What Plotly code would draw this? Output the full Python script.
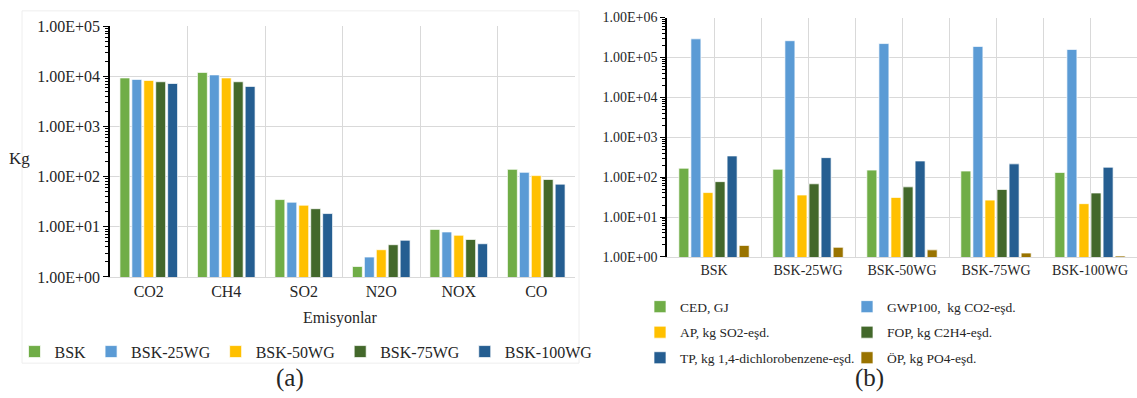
import plotly.graph_objects as go

# ---------------- data (a) ----------------
emissions = ["CO2", "CH4", "SO2", "N2O", "NOX", "CO"]
series_a = ["BSK", "BSK-25WG", "BSK-50WG", "BSK-75WG", "BSK-100WG"]
bsk      = [9300, 12000, 35, 1.62, 8.9, 140]
bsk25    = [8700, 10700, 31, 2.5, 7.9, 122]
bsk50    = [8300, 9300, 27, 3.5, 6.8, 105]
bsk75    = [7800, 7800, 23, 4.4, 5.6, 88]
bsk100   = [7200, 6300, 18.4, 5.4, 4.6, 71]
values_a = [bsk, bsk25, bsk50, bsk75, bsk100]

# ---------------- data (b) ----------------
mixes = ["BSK", "BSK-25WG", "BSK-50WG", "BSK-75WG", "BSK-100WG"]
series_b = ["CED, GJ", "GWP100,  kg CO2-eşd.", "AP, kg SO2-eşd.",
            "FOP, kg C2H4-eşd.", "TP, kg 1,4-dichlorobenzene-eşd.", "ÖP, kg PO4-eşd."]
ced   = [167, 158, 150, 142, 131]
gwp   = [293000, 263000, 223000, 189000, 159000]
ap    = [41, 35.6, 31, 26.5, 21.6]
fop   = [77, 68, 57, 49, 40]
tp    = [340, 308, 254, 215, 177]
op    = [1.94, 1.74, 1.5, 1.25, 1.05]
values_b = [ced, gwp, ap, fop, tp, op]

colors_a = ["#70AD47", "#5B9BD5", "#FFC000", "#43682B", "#255E91"]
colors_b = ["#70AD47", "#5B9BD5", "#FFC000", "#43682B", "#255E91", "#997300"]
legend_b = ["legend2", "legend3", "legend2", "legend3", "legend2", "legend3"]

ticks_a = [10 ** k for k in range(0, 6)]
ticks_b = [10 ** k for k in range(0, 7)]

FONT = "Liberation Serif, Times New Roman, serif"
TXT = "#262626"
GRID = "#d9d9d9"
W, H = 1137, 398

fig = go.Figure()

for name, vals, col in zip(series_a, values_a, colors_a):
    fig.add_trace(go.Bar(
        x=emissions, y=vals, name=name, xaxis="x", yaxis="y",
        marker=dict(color=col, line=dict(color="rgba(255,255,255,0.7)", width=1)),
        legend="legend"))

xb = list(range(len(mixes)))
for i, (name, vals, col) in enumerate(zip(series_b, values_b, colors_b)):
    fig.add_trace(go.Bar(
        x=xb, y=vals, name=name, xaxis="x2", yaxis="y2",
        marker=dict(color=col, line=dict(color="rgba(255,255,255,0.7)", width=1)),
        legend=legend_b[i], legendgroup="g%d" % i))

def px_x(p):
    return p / W

def px_y(p):
    return 1 - p / H

def note(text, x, y, size):
    return dict(text=text, x=px_x(x), y=px_y(y), xref="paper", yref="paper",
                xanchor="center", yanchor="middle", showarrow=False,
                font=dict(size=size, family=FONT, color=TXT))

fig.update_layout(
    width=W, height=H,
    margin=dict(l=0, r=0, t=0, b=0),
    paper_bgcolor="white", plot_bgcolor="white",
    font=dict(family=FONT, color=TXT, size=16),
    barmode="group", bargap=0.23, bargroupgap=0.17,
    xaxis=dict(
        domain=[px_x(110), px_x(575)], anchor="y", type="category",
        tickson="boundaries", showgrid=True, gridcolor=GRID, gridwidth=1,
        showline=True, linecolor=GRID, linewidth=1, ticks="",
        tickfont=dict(size=16, family=FONT, color=TXT)),
    yaxis=dict(
        domain=[px_y(281), px_y(19)], anchor="x", type="log", range=[0, 5],
        tickvals=ticks_a, ticktext=["%.2E" % v for v in ticks_a],
        showgrid=True, gridcolor=GRID, gridwidth=1,
        showline=True, linecolor="#000000", linewidth=1.5,
        ticks="outside", ticklen=5, tickcolor="#000000",
        minor=dict(ticks="outside", ticklen=3, tickcolor="#000000", dtick="D1", showgrid=False),
        tickfont=dict(size=16, family=FONT, color=TXT), zeroline=False),
    xaxis2=dict(
        domain=[px_x(667), px_x(1137)], anchor="y2", range=[-0.5, len(mixes) - 0.5],
        tickvals=xb, ticktext=mixes, showgrid=True, gridcolor=GRID, gridwidth=1,
        minor=dict(tickvals=[i - 0.5 for i in range(len(mixes) + 1)], showgrid=True,
                   gridcolor=GRID, gridwidth=1, ticks=""),
        showline=True, linecolor=GRID, linewidth=1, ticks="", zeroline=False,
        tickfont=dict(size=14, family=FONT, color=TXT)),
    yaxis2=dict(
        domain=[px_y(260), px_y(10)], anchor="x2", type="log", range=[0, 6],
        tickvals=ticks_b, ticktext=["%.2E" % v for v in ticks_b],
        showgrid=True, gridcolor=GRID, gridwidth=1,
        showline=True, linecolor="#000000", linewidth=1.5,
        ticks="outside", ticklen=5, tickcolor="#000000",
        minor=dict(ticks="outside", ticklen=3, tickcolor="#000000", dtick="D1", showgrid=False),
        tickfont=dict(size=14, family=FONT, color=TXT), zeroline=False),
    legend=dict(
        orientation="h", x=px_x(306), xanchor="center", y=px_y(359), yanchor="middle",
        font=dict(size=16, family=FONT, color=TXT), bgcolor="rgba(0,0,0,0)",
        itemwidth=30, traceorder="normal"),
    legend2=dict(
        orientation="v", x=px_x(640), xanchor="left", y=px_y(296), yanchor="top",
        font=dict(size=13.5, family=FONT, color=TXT), bgcolor="rgba(0,0,0,0)",
        itemwidth=30, tracegroupgap=5, traceorder="grouped"),
    legend3=dict(
        orientation="v", x=px_x(847), xanchor="left", y=px_y(296), yanchor="top",
        font=dict(size=13.5, family=FONT, color=TXT), bgcolor="rgba(0,0,0,0)",
        itemwidth=30, tracegroupgap=5, traceorder="grouped"),
    annotations=[
        note("Kg", 19, 157, 17),
        note("Emisyonlar", 340, 324, 16),
        note("(a)", 290, 387, 25),
        note("(b)", 869, 386, 25),
    ],
    shapes=[
        dict(type="rect", xref="paper", yref="paper", x0=px_x(22), x1=px_x(579),
             y0=px_y(371), y1=px_y(3), line=dict(color="#eeeeee", width=1), layer="below"),
    ],
)

fig.write_html("out.html", config={"displayModeBar": False},
               post_script="document.body.style.margin='0';")
